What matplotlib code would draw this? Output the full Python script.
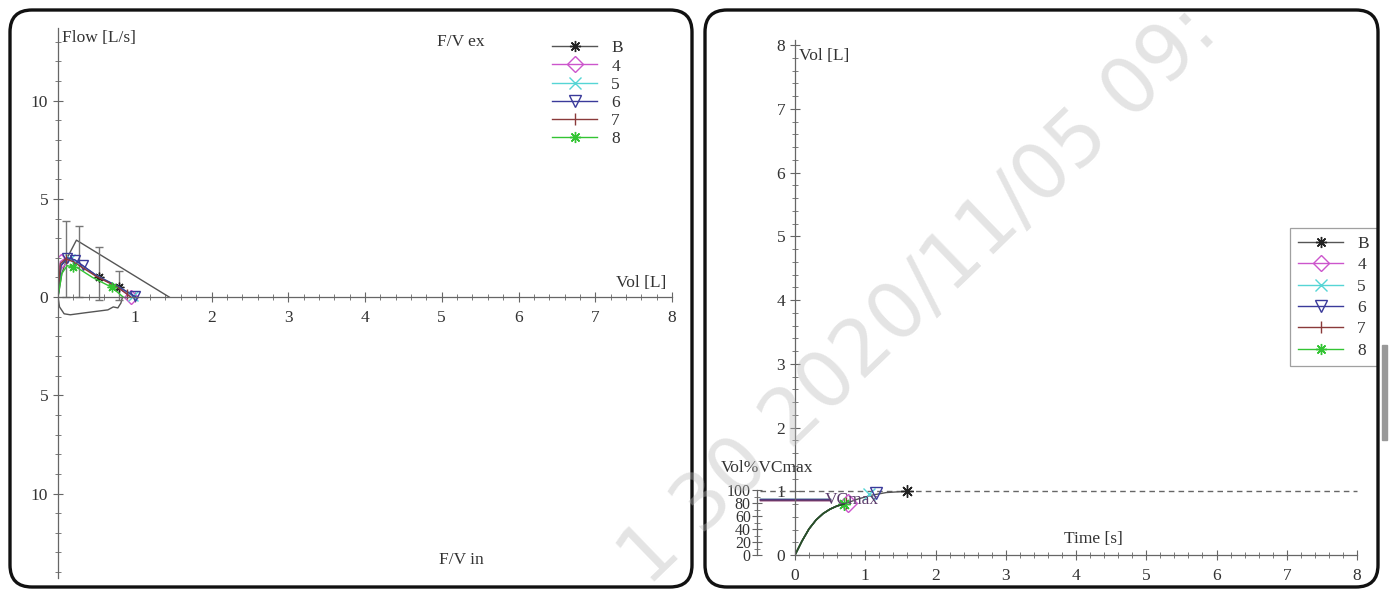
import numpy as np
import matplotlib
matplotlib.use('Agg')
import matplotlib.pyplot as plt
from matplotlib.patches import FancyBboxPatch, Rectangle
from matplotlib.ticker import MultipleLocator, FuncFormatter

plt.rcParams['font.family'] = ['Liberation Serif', 'DejaVu Serif']

# series
names = ['B', '4', '5', '6', '7', '8']
colors = ['#222222', '#cc55cc', '#55d5d5', '#3a3a9a', '#8a3a3a', '#33c433']
markers = [(8, 2, 0), 'D', 'x', 'v', '|', (8, 2, 0)]

# flow-volume, expiratory (vol [L], flow [L/s])
fv_vol = {
    'B': [0, 0.04, 0.12, 0.22, 0.5, 0.8, 1.0],
    '4': [0, 0.03, 0.1, 0.2, 0.5, 0.8, 0.95],
    '5': [0, 0.04, 0.12, 0.22, 0.5, 0.8, 1.0],
    '6': [0, 0.04, 0.12, 0.22, 0.5, 0.8, 1.02],
    '7': [0, 0.03, 0.1, 0.2, 0.5, 0.78, 0.95],
    '8': [0, 0.05, 0.12, 0.25, 0.45, 0.7, 0.85],
}
fv_flow = {
    'B': [0, 1.6, 1.95, 1.85, 1.1, 0.5, 0],
    '4': [0, 1.8, 2.0, 1.9, 1.1, 0.45, 0],
    '5': [0, 1.7, 1.95, 1.85, 1.1, 0.5, 0],
    '6': [0, 1.6, 2.0, 1.9, 1.1, 0.5, 0],
    '7': [0, 1.7, 1.95, 1.8, 1.05, 0.5, 0],
    '8': [0, 1.2, 1.6, 1.5, 1.0, 0.5, 0],
}
# marker points on the curves
fv_mark_vol = {
    'B': [0.53, 0.79],
    '4': [0.04, 0.95],
    '5': [0.15, 0.98],
    '6': [0.12, 0.22, 0.32, 1.0],
    '7': [0.1, 0.9],
    '8': [0.2, 0.7],
}
# predicted expiratory curve
pred_vol = [0, 0.05, 0.12, 0.24, 1.45]
pred_flow = [0, 1.2, 2.0, 2.9, 0]
# inspiratory loop (B)
fi_vol = [0, 0.02, 0.08, 0.16, 0.35, 0.55, 0.65, 0.72, 0.78, 0.82, 0.84]
fi_flow = [0, -0.5, -0.85, -0.9, -0.8, -0.7, -0.65, -0.5, -0.55, -0.3, 0]

# error bars on flow
eb_vol = [0.11, 0.28, 0.54, 0.79]
eb_mean = [1.95, 1.8, 1.2, 0.6]
eb_err = [1.95, 1.8, 1.35, 0.75]

# volume-time
vt_t = [0, 0.1, 0.2, 0.3, 0.4, 0.5, 0.6, 0.7]
vt_vol = [0, 0.22, 0.41, 0.55, 0.65, 0.72, 0.77, 0.80]
vt_end = {'B': (1.6, 1.0), '4': (0.75, 0.82), '5': (1.05, 0.96),
          '6': (1.15, 0.98), '7': (0.72, 0.81), '8': (0.7, 0.80)}
b_tail_t = [0.7, 0.9, 1.1, 1.3, 1.6]
b_tail_vol = [0.80, 0.88, 0.94, 0.98, 1.0]
vcmax_lvl = [0.88, 0.87, 0.875, 0.885, 0.87, 0.865]

W, H = 1392, 592
fig = plt.figure(figsize=(W / 100, H / 100), dpi=100)
tc = '#333333'

def px(x0, ytop, w, h):
    return [x0 / W, (H - ytop - h) / H, w / W, h / H]

def style(ax):
    for s in ['top', 'right']:
        ax.spines[s].set_visible(False)
    for s in ['left', 'bottom']:
        ax.spines[s].set_color('#666666')
        ax.spines[s].set_linewidth(0.9)
    ax.tick_params(which='both', direction='inout', colors='#666666',
                   labelcolor=tc, labelsize=12.5)
    ax.tick_params(which='major', length=7)
    ax.tick_params(which='minor', length=4)
    ax.patch.set_alpha(0)

# ---- left: flow / volume
ax = fig.add_axes(px(58, 28, 614, 550))
style(ax)
ax.set_xlim(0, 8)
ax.set_ylim(-14.3, 13.7)
ax.spines['bottom'].set_position(('data', 0))
ax.xaxis.set_major_locator(MultipleLocator(1))
ax.xaxis.set_minor_locator(MultipleLocator(0.2))
ax.set_yticks([-10, -5, 0, 5, 10])
ax.yaxis.set_minor_locator(MultipleLocator(1))
ax.yaxis.set_major_formatter(FuncFormatter(lambda v, p: '%d' % abs(v)))
ax.xaxis.set_major_formatter(FuncFormatter(lambda v, p: '' if v == 0 else '%d' % v))
ax.tick_params(axis='x', pad=6)

ax.plot(pred_vol, pred_flow, color='#555555', lw=1)
ax.plot(fi_vol, fi_flow, color='#555555', lw=1)
ax.errorbar(eb_vol, eb_mean, yerr=eb_err, fmt='none', ecolor='#777777',
            elinewidth=1, capsize=3)
handles = []
for n, c, m in zip(names, colors, markers):
    ax.plot(fv_vol[n], fv_flow[n], color=c if n != 'B' else '#555555', lw=1)
    my = np.interp(fv_mark_vol[n], fv_vol[n], fv_flow[n])
    ax.plot(fv_mark_vol[n], my, ls='none', marker=m, color=c, ms=7,
            mfc='none', mew=1)
    h, = ax.plot([], [], color=c if n != 'B' else '#555555', lw=1, marker=m,
                 ms=8, mfc='none', mec=c, mew=1)
    handles.append(h)
ax.legend(handles, names, loc='upper left', bbox_to_anchor=(0.785, 1.0),
          frameon=False, fontsize=12.5, handlelength=2.6, labelspacing=0.12,
          borderpad=0.2, labelcolor=tc)
ax.text(0.05, 13.6, 'Flow [L/s]', fontsize=12.5, color=tc, va='top')
ax.text(5.25, 13.4, 'F/V ex', fontsize=12.5, color=tc, va='top', ha='center')
ax.text(7.6, 0.3, 'Vol [L]', fontsize=12.5, color=tc, va='bottom', ha='center')
ax.text(5.25, -13.4, 'F/V in', fontsize=12.5, color=tc, va='center', ha='center')

# ---- right: volume / time
ax2 = fig.add_axes(px(795, 40, 562, 515))
style(ax2)
ax2.set_xlim(0, 8)
ax2.set_ylim(0, 8.08)
ax2.xaxis.set_major_locator(MultipleLocator(1))
ax2.xaxis.set_minor_locator(MultipleLocator(0.2))
ax2.yaxis.set_minor_locator(MultipleLocator(0.2))
ax2.set_yticks(range(0, 9))
ax2.tick_params(axis='x', pad=6)

ax2.plot([-0.5, 8], [1, 1], ls=(0, (4, 3)), color='#666666', lw=1, clip_on=False)
for n, c, lv in zip(names, colors, vcmax_lvl):
    ax2.plot([-0.5, 0.5], [lv, lv], color=c if n != '8' else '#6a3a6a',
             lw=1, clip_on=False)
ax2.plot(b_tail_t, b_tail_vol, color='#555555', lw=1)
h2 = []
for n, c, m in zip(names, colors, markers):
    ax2.plot(vt_t, vt_vol, color=c if n != 'B' else '#555555', lw=1)
    ex, ey = vt_end[n]
    ax2.plot([ex], [ey], ls='none', marker=m, color=c, ms=9, mfc='none', mew=1)
    h, = ax2.plot([], [], color=c if n != 'B' else '#555555', lw=1, marker=m,
                  ms=8, mfc='none', mec=c, mew=1)
    h2.append(h)
ax2.plot(vt_t, vt_vol, color='#2a4a2a', lw=1.2)
lg = ax2.legend(h2, names, loc='upper left', bbox_to_anchor=(0.866, 0.652),
                frameon=True, fancybox=False, edgecolor='#888888', fontsize=12.5,
                handlelength=2.6, labelspacing=0.3, borderpad=0.45, labelcolor=tc)
lg.get_frame().set_linewidth(0.9)
ax2.text(0.05, 7.95, 'Vol [L]', fontsize=12.5, color=tc, va='top')
ax2.text(4.25, 0.12, 'Time [s]', fontsize=12.5, color=tc, va='bottom', ha='center')
ax2.text(0.42, 0.87, 'VCmax', fontsize=12.5, color='#5a3a6a', va='center')

# ---- Vol%VCmax scale
ax3 = fig.add_axes(px(757, 490, 0.5, 65))
style(ax3)
ax3.spines['bottom'].set_visible(False)
ax3.set_xticks([])
ax3.set_ylim(0, 100)
ax3.set_yticks(range(0, 101, 20))
ax3.yaxis.set_minor_locator(MultipleLocator(10))
ax3.tick_params(axis='y', labelsize=11.5, pad=1)
fig.text(767 / W, 1 - 468 / H, 'Vol%VCmax', fontsize=12.5, color=tc,
         ha='center', va='center')

# ---- panel frames
for x0, w in [(10, 682), (705, 673)]:
    fig.patches.append(FancyBboxPatch((x0, 5), w, 577, transform=None,
                                      boxstyle='round,pad=0,rounding_size=22',
                                      fill=False, ec='#111111', lw=2.4))
fig.patches.append(Rectangle((1382, 152), 5, 95, transform=None,
                             color='#999999'))

# watermark
fig.text(0.66, 0.5, '1 30 2020/11/05 09:', fontsize=56, color='#bbbbbb',
         alpha=0.4, rotation=44, ha='center', va='center',
         family='DejaVu Sans', zorder=10)

fig.savefig('out.png', dpi=100)
